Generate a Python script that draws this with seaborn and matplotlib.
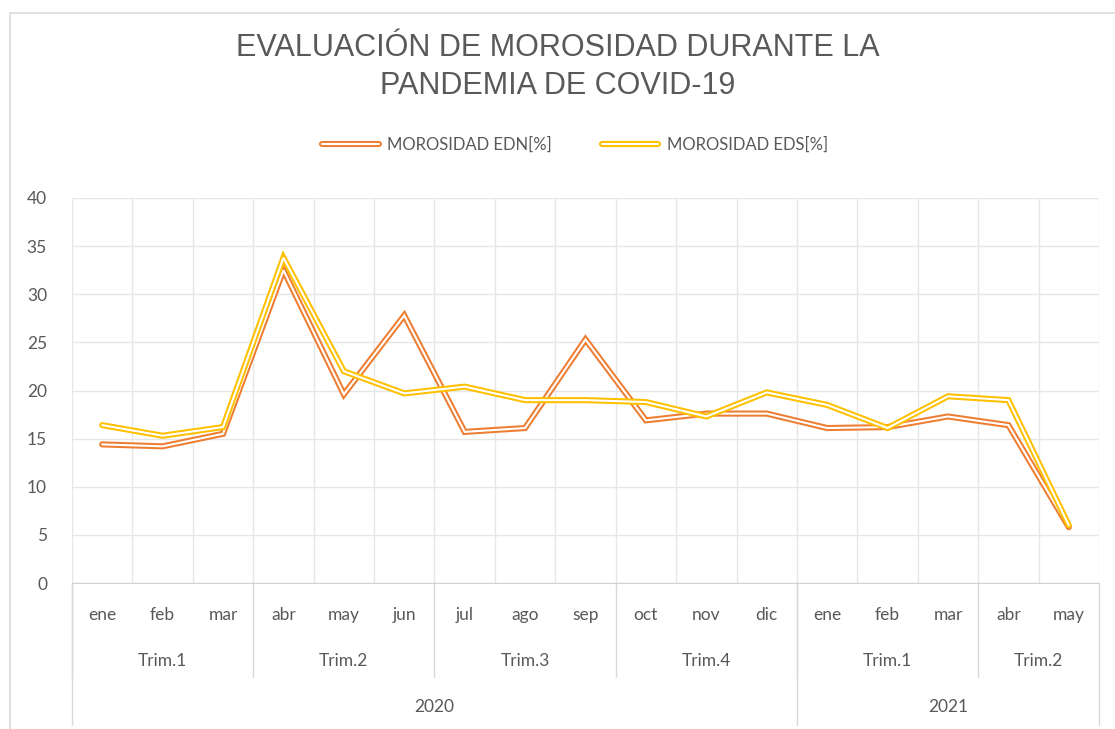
import numpy as np
import pandas as pd
import matplotlib
matplotlib.use("Agg")
import matplotlib.pyplot as plt
from matplotlib.lines import Line2D
from matplotlib.patches import Rectangle
import seaborn as sns

# ---- data
meses = ["ene", "feb", "mar", "abr", "may", "jun", "jul", "ago", "sep",
         "oct", "nov", "dic", "ene", "feb", "mar", "abr", "may"]
trimestres = ["Trim.1", "Trim.2", "Trim.3", "Trim.4", "Trim.1", "Trim.2"]
trim_tamano = [3, 3, 3, 3, 3, 2]
anios = ["2020", "2021"]
anio_tamano = [12, 5]

edn = [14.4, 14.2, 15.5, 32.5, 19.6, 27.8, 15.7, 16.1, 25.3,
       16.9, 17.6, 17.6, 16.1, 16.2, 17.3, 16.4, 5.8]
eds = [16.4, 15.3, 16.2, 33.8, 22.0, 19.7, 20.4, 19.0, 19.0,
       18.8, 17.3, 19.8, 18.5, 16.1, 19.4, 19.0, 6.0]

df = pd.DataFrame({"pos": np.arange(len(meses)), "mes": meses,
                   "MOROSIDAD EDN[%]": edn, "MOROSIDAD EDS[%]": eds})

GRIS = "#595959"
NARANJA = "#ED7D31"
AMARILLO = "#FFC000"
LW_OUT, LW_IN = 4.4, 1.5

sns.set_style("white")
plt.rcParams["font.family"] = ["Lato", "DejaVu Sans"]

fig = plt.figure(figsize=(11.15, 7.29), dpi=100)
ax = fig.add_axes([72 / 1115, 1 - 583 / 729, (1099 - 72) / 1115, 385 / 729])

# outer chart frame
fig.patches.append(Rectangle((10 / 1115, -0.05), 1.2, 1 - 13 / 729 + 0.05,
                             transform=fig.transFigure, fill=False,
                             edgecolor="#d9d9d9", lw=1.2, zorder=0))

# compound (double) lines: coloured stroke with a white core
for col, color in [("MOROSIDAD EDN[%]", NARANJA), ("MOROSIDAD EDS[%]", AMARILLO)]:
    sns.lineplot(data=df, x="pos", y=col, color=color, lw=LW_OUT, ax=ax,
                 solid_joinstyle="miter", zorder=3)
    sns.lineplot(data=df, x="pos", y=col, color="white", lw=LW_IN, ax=ax,
                 solid_joinstyle="miter", zorder=3)

n = len(meses)
ax.set_xlim(-0.5, n - 0.5)
ax.set_ylim(0, 40)
ax.set_yticks(np.arange(0, 41, 5))
ax.set_xticks(np.arange(n))
ax.set_xticklabels(meses)
ax.set_xticks(np.arange(-0.5, n, 1), minor=True)
ax.tick_params(axis="x", which="both", length=0, pad=17, labelsize=12.5, colors=GRIS)
ax.tick_params(axis="y", length=0, pad=18, labelsize=12.5, colors=GRIS)
ax.grid(axis="y", color="#e6e6e6", lw=1)
ax.grid(axis="x", which="minor", color="#e6e6e6", lw=1)
ax.grid(axis="x", which="major", visible=False)
ax.set_xlabel("")
ax.set_ylabel("")
for s in ["top", "right", "left"]:
    ax.spines[s].set_visible(False)
ax.spines["bottom"].set_color("#d0d0d0")
ax.set_axisbelow(True)

# multi-level category axis
tr = ax.get_xaxis_transform()
sep = dict(color="#d9d9d9", lw=1, clip_on=False, transform=tr)
inicio = -0.5
for nombre, k in zip(trimestres, trim_tamano):
    ax.text(inicio + k / 2, -0.203, nombre, transform=tr, ha="center",
            va="center", fontsize=12.5, color=GRIS)
    ax.plot([inicio, inicio], [0, -0.244], **sep)
    inicio += k
inicio = -0.5
for nombre, k in zip(anios, anio_tamano):
    ax.text(inicio + k / 2, -0.323, nombre, transform=tr, ha="center",
            va="center", fontsize=12.5, color=GRIS)
    ax.plot([inicio, inicio], [0, -0.37], **sep)
    inicio += k
ax.plot([inicio, inicio], [0, -0.37], **sep)

# title
fig.text(0.5, 1 - 48 / 729, "EVALUACIÓN DE MOROSIDAD DURANTE LA", ha="center",
         va="center", fontsize=22, color=GRIS, family="Liberation Sans")
fig.text(0.5, 1 - 86 / 729, "PANDEMIA DE COVID-19", ha="center",
         va="center", fontsize=22, color=GRIS, family="Liberation Sans")

# legend with double-line handles
handles = []
for color in [NARANJA, AMARILLO]:
    handles.append((Line2D([], [], color=color, lw=LW_OUT),
                    Line2D([], [], color="white", lw=LW_IN)))
fig.legend(handles, ["MOROSIDAD EDN[%]", "MOROSIDAD EDS[%]"], ncol=2,
           loc="center", bbox_to_anchor=(575 / 1115, 1 - 145 / 729),
           frameon=False, fontsize=12, labelcolor=GRIS, handlelength=3.4,
           columnspacing=3, handletextpad=0.5)

fig.savefig("out.png", dpi=100)
